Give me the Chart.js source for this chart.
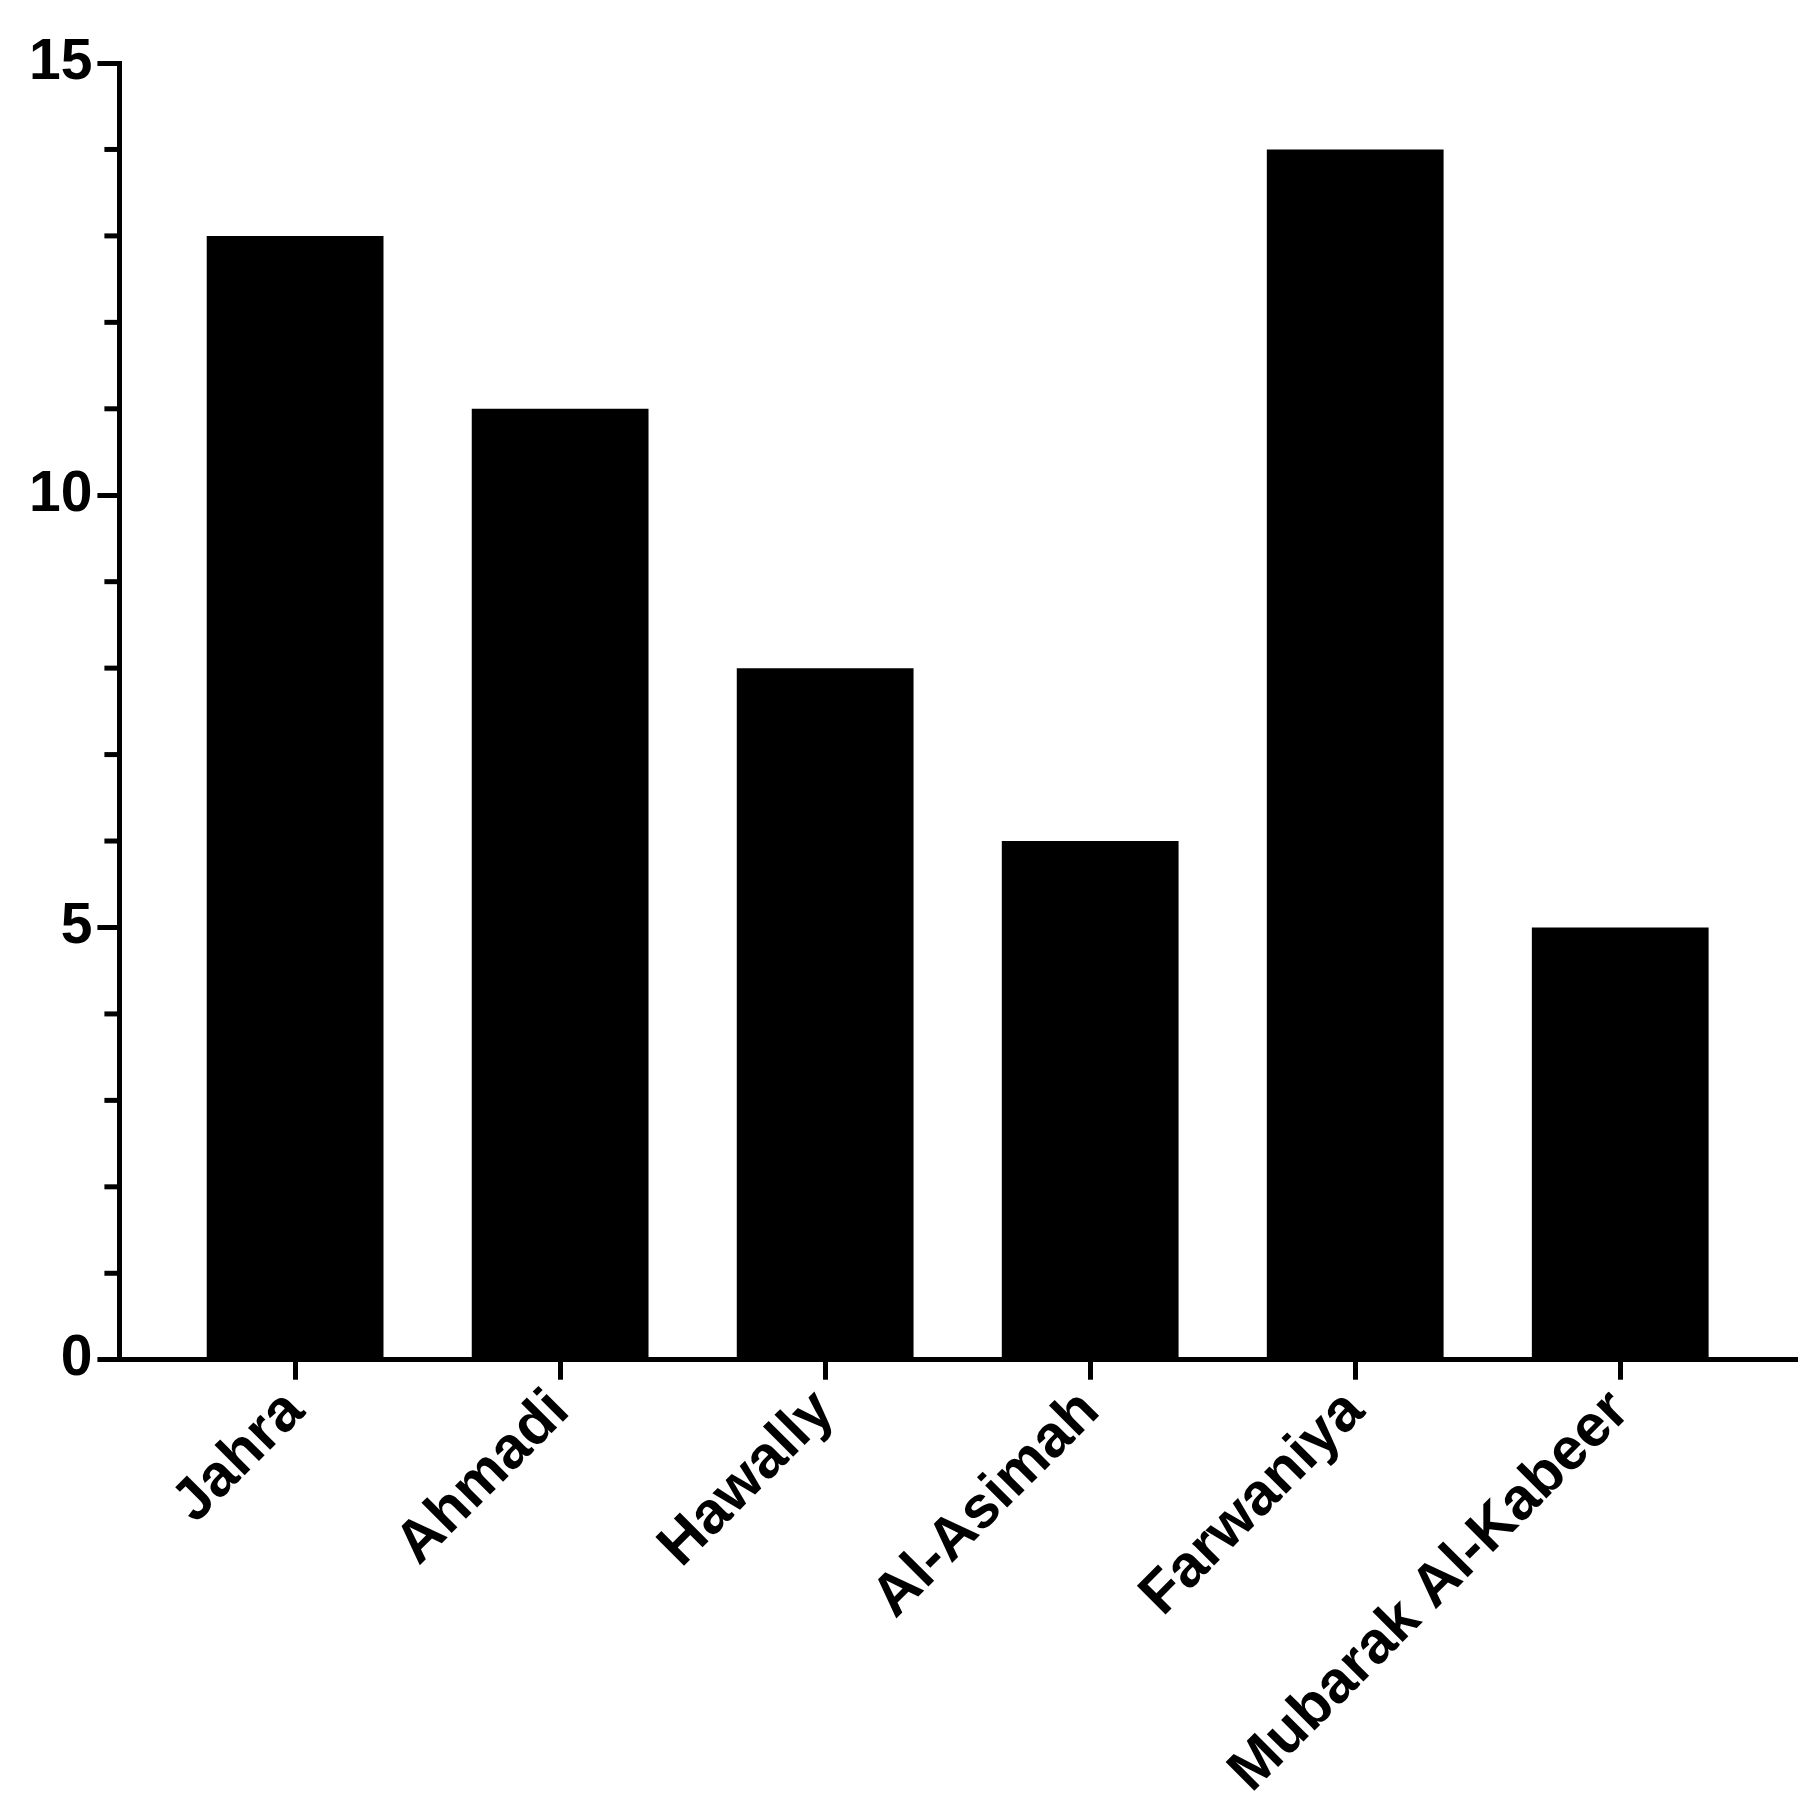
<!DOCTYPE html>
<html>
<head>
<meta charset="utf-8">
<script src="https://cdn.jsdelivr.net/npm/chart.js@4"></script>
<style>
  html, body { margin: 0; padding: 0; background: #fff; }
  #wrap { width: 1818px; height: 1818px; }
</style>
</head>
<body>
<div id="wrap"><canvas id="bar-chart" width="1818" height="1818"></canvas></div>
<script>
const districts = ["Jahra", "Ahmadi", "Hawally", "Al-Asimah", "Farwaniya", "Mubarak Al-Kabeer"];
const counts = [13, 11, 8, 6, 14, 5];
const yMajorTicks = [0, 5, 10, 15];
const yMinorTicks = [1, 2, 3, 4, 6, 7, 8, 9, 11, 12, 13, 14];

const fontFamily = "'Liberation Sans', Arial, sans-serif";

// short minor ticks on the y axis (Chart.js has one tick length per axis)
const minorTicks = {
  id: "minorTicks",
  afterDraw(chart) {
    const y = chart.scales.y;
    const ctx = chart.ctx;
    const x0 = chart.chartArea.left;
    ctx.save();
    ctx.strokeStyle = "#000";
    ctx.lineWidth = 5;
    yMinorTicks.forEach(function (v) {
      const py = y.getPixelForValue(v);
      ctx.beginPath();
      ctx.moveTo(x0 - 15, py);
      ctx.lineTo(x0, py);
      ctx.stroke();
    });
    ctx.restore();
  },
};

new Chart(document.getElementById("bar-chart"), {
  type: "bar",
  data: {
    datasets: [
      {
        data: counts.map(function (c, i) { return { x: i, y: c }; }),
        backgroundColor: "#000",
        borderWidth: 0,
        categoryPercentage: 1,
        barPercentage: 0.667,
      },
    ],
  },
  options: {
    responsive: false,
    animation: false,
    layout: { padding: { top: 63, right: 21, left: 24, bottom: 14 } },
    plugins: { legend: { display: false }, tooltip: { enabled: false } },
    scales: {
      x: {
        type: "linear",
        offset: false,
        min: -0.663,
        max: 5.667,
        afterBuildTicks: function (scale) {
          scale.ticks = districts.map(function (_, i) { return { value: i }; });
        },
        grid: { offset: false, drawOnChartArea: false, tickLength: 20, tickWidth: 5, tickColor: "#000" },
        border: { color: "#000", width: 5 },
        ticks: {
          color: "#000",
          font: { family: fontFamily, weight: "bold", size: 59 },
          maxRotation: 45,
          minRotation: 45,
          padding: -3,
          autoSkip: false,
          callback: function (v) { return districts[v]; },
        },
      },
      y: {
        min: 0,
        max: 15,
        afterBuildTicks: function (scale) {
          scale.ticks = yMajorTicks.map(function (v) { return { value: v }; });
        },
        grid: { drawOnChartArea: false, tickLength: 22, tickWidth: 5, tickColor: "#000" },
        border: { color: "#000", width: 5 },
        ticks: { color: "#000", font: { family: fontFamily, weight: "bold", size: 57 }, padding: 5 },
      },
    },
  },
  plugins: [minorTicks],
});
</script>
</body>
</html>
